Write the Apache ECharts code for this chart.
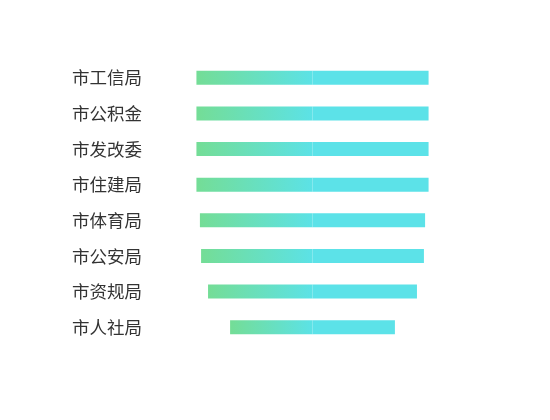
<!DOCTYPE html>
<html>
<head>
<meta charset="utf-8">
<script src="https://cdn.jsdelivr.net/npm/echarts@6/dist/echarts.min.js"></script>
<style>
  html, body { margin: 0; padding: 0; background: #fff; }
  #chart { width: 550px; height: 420px; }
</style>
</head>
<body>
<div id="chart"></div>
<script>
// 部门
var categories = ['市工信局', '市公积金', '市发改委', '市住建局', '市体育局', '市公安局', '市资规局', '市人社局'];
// 数值（左右对称）
var values = [100, 100, 100, 100, 97, 96, 90, 71];

var chart = echarts.init(document.getElementById('chart'));

var option = {
  backgroundColor: '#fff',
  animation: false,
  grid: { left: 150, right: 75, top: 60, bottom: 75 },
  xAxis: {
    type: 'value',
    min: -140,
    max: 140,
    show: false
  },
  yAxis: {
    type: 'category',
    inverse: true,
    data: categories,
    axisLine: { show: false },
    axisTick: { show: false },
    splitLine: { show: false },
    axisLabel: {
      color: '#333',
      fontSize: 17.5,
      margin: 8,
      fontFamily: 'Noto Sans CJK SC'
    }
  },
  series: [
    {
      // 左半边，渐变
      type: 'bar',
      stack: 'total',
      barWidth: 14,
      data: values.map(function (v) { return -v; }),
      itemStyle: {
        color: new echarts.graphic.LinearGradient(0, 0, 1, 0, [
          { offset: 0, color: '#74dd96' },
          { offset: 1, color: '#5ce2e6' }
        ])
      }
    },
    {
      // 右半边
      type: 'bar',
      stack: 'total',
      barWidth: 14,
      data: values,
      itemStyle: { color: '#5ce2e8' }
    }
  ]
};

chart.setOption(option);
</script>
</body>
</html>
